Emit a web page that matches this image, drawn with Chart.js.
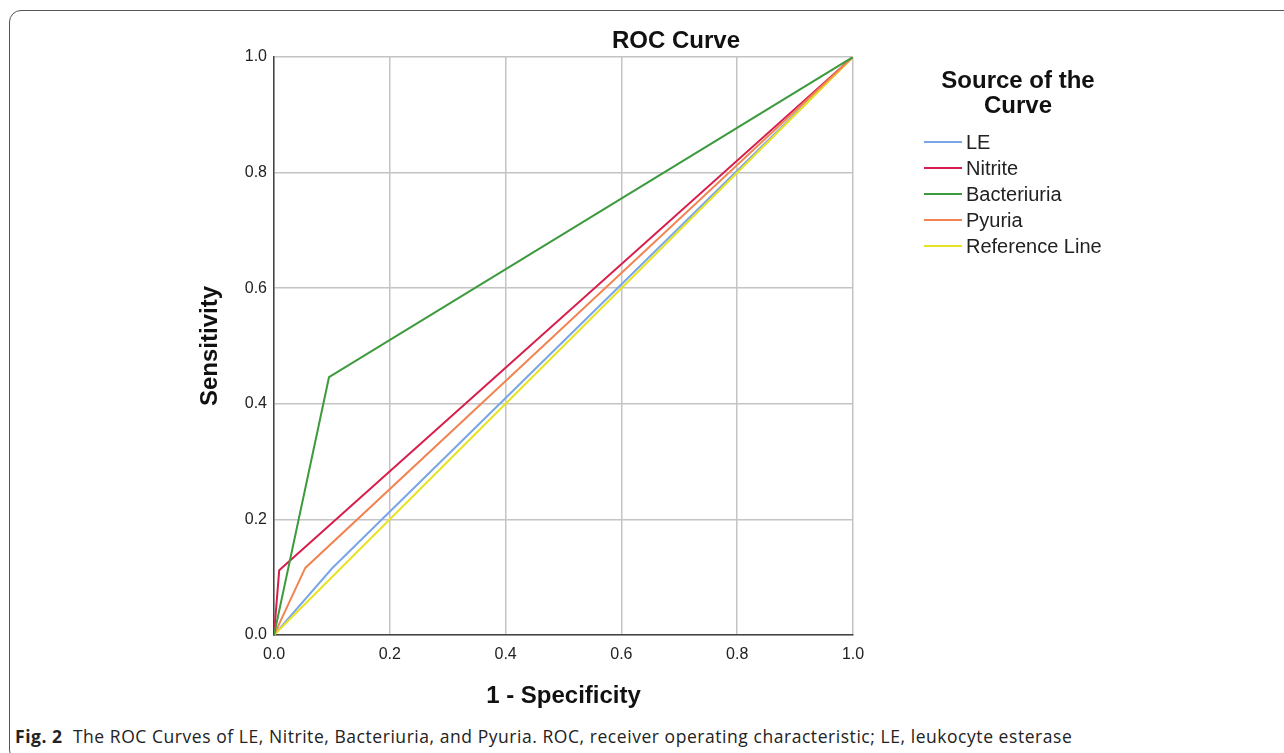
<!DOCTYPE html>
<html>
<head>
<meta charset="utf-8">
<script src="https://cdn.jsdelivr.net/npm/chart.js@4.4.1/dist/chart.umd.min.js"></script>
<style>
  body { margin: 0; background: #fff; width: 1284px; height: 753px; overflow: hidden; position: relative; font-family: "Liberation Sans", Arial, sans-serif; }
  #frame { position: absolute; left: 9px; top: 10px; width: 1320px; height: 750px; border: 1.5px solid #555; border-radius: 12px; }
  #wrap { position: absolute; left: 0; top: 0; width: 1284px; height: 720px; }
  #title { position: absolute; left: 526px; width: 300px; top: 26px; text-align: center; font-weight: bold; font-size: 24px; color: #111; }
  #legend { position: absolute; left: 918px; top: 67px; width: 200px; }
  #legend .ttl { text-align: center; font-weight: bold; font-size: 24px; line-height: 25px; color: #111; margin-bottom: 12px; white-space: nowrap; }
  #legend .item { display: flex; align-items: center; height: 26px; font-size: 20px; color: #222; white-space: nowrap; }
  #legend .sw { width: 38px; height: 2px; margin: 0 4px 0 6px; }
  #caption { position: absolute; left: 15px; top: 724px; font-family: "Open Sans", sans-serif; font-size: 17.5px; letter-spacing: 0.55px; color: #222; white-space: nowrap; }
</style>
</head>
<body>
<div id="frame"></div>
<div id="wrap"><canvas id="chart"></canvas></div>
<div id="title">ROC Curve</div>
<div id="legend"></div>
<div id="caption"><b>Fig. 2</b>&nbsp; The ROC Curves of LE, Nitrite, Bacteriuria, and Pyuria. ROC, receiver operating characteristic; LE, leukocyte esterase</div>
<script>
// data (1 - specificity, sensitivity)
const seriesNames = ['LE', 'Nitrite', 'Bacteriuria', 'Pyuria', 'Reference Line'];
const leX = [0, 0.10, 1];
const leY = [0, 0.115, 1];
const nitriteX = [0, 0.009, 1];
const nitriteY = [0, 0.112, 1];
const bactX = [0, 0.095, 1];
const bactY = [0, 0.446, 1];
const pyuriaX = [0, 0.054, 1];
const pyuriaY = [0, 0.116, 1];
const refX = [0, 1];
const refY = [0, 1];
const tickValues = [0, 0.2, 0.4, 0.6, 0.8, 1.0];
const colors = ['#79a6e6', '#d81e4c', '#3d9a3d', '#f28452', '#e8e224'];

function pts(xs, ys) {
  return xs.map((x, i) => ({ x: x, y: ys[i] }));
}

const allX = [leX, nitriteX, bactX, pyuriaX, refX];
const allY = [leY, nitriteY, bactY, pyuriaY, refY];
// reference line drawn first so it sits underneath
const order = [4, 3, 0, 1, 2];

const datasets = seriesNames.map((name, i) => ({
  label: name,
  data: pts(allX[i], allY[i]),
  borderColor: colors[i],
  backgroundColor: colors[i],
  borderWidth: 2,
  pointRadius: 0,
  showLine: true,
  tension: 0,
  order: order[i]
}));

// legend built from the datasets
const legend = document.getElementById('legend');
legend.innerHTML = '<div class="ttl">Source of the<br>Curve</div>' +
  datasets.map(d => `<div class="item"><span class="sw" style="background:${d.borderColor}"></span>${d.label}</div>`).join('');

const tickFont = { family: '"Liberation Sans", Arial, sans-serif', size: 16 };
const titleFont = { family: '"Liberation Sans", Arial, sans-serif', size: 24, weight: 'bold', lineHeight: 1.2 };

new Chart(document.getElementById('chart'), {
  type: 'scatter',
  data: { datasets: datasets },
  options: {
    responsive: true,
    maintainAspectRatio: false,
    animation: false,
    layout: { padding: { left: 196, right: 431, top: 57, bottom: 9 } },
    plugins: { legend: { display: false }, tooltip: { enabled: false } },
    scales: {
      x: {
        type: 'linear', min: 0, max: 1,
        afterBuildTicks: s => { s.ticks = tickValues.map(v => ({ value: v })); },
        afterFit: s => { s.height = 76; },
        ticks: { font: tickFont, color: '#222', padding: 10, callback: v => v.toFixed(1) },
        grid: { color: '#c4c4c4', lineWidth: 1.5, drawTicks: false },
        border: { color: '#444', width: 1.5 },
        title: { display: true, text: '1 - Specificity', font: titleFont, color: '#111', padding: 0 }
      },
      y: {
        type: 'linear', min: 0, max: 1,
        afterBuildTicks: s => { s.ticks = tickValues.map(v => ({ value: v })); },
        afterFit: s => { s.width = 78; },
        ticks: { font: tickFont, color: '#222', padding: 7, callback: v => v.toFixed(1) },
        grid: { color: '#c4c4c4', lineWidth: 1.5, drawTicks: false },
        border: { color: '#444', width: 1.5 },
        title: { display: true, text: 'Sensitivity', font: titleFont, color: '#111', padding: 0 }
      }
    }
  }
});
</script>
</body>
</html>
